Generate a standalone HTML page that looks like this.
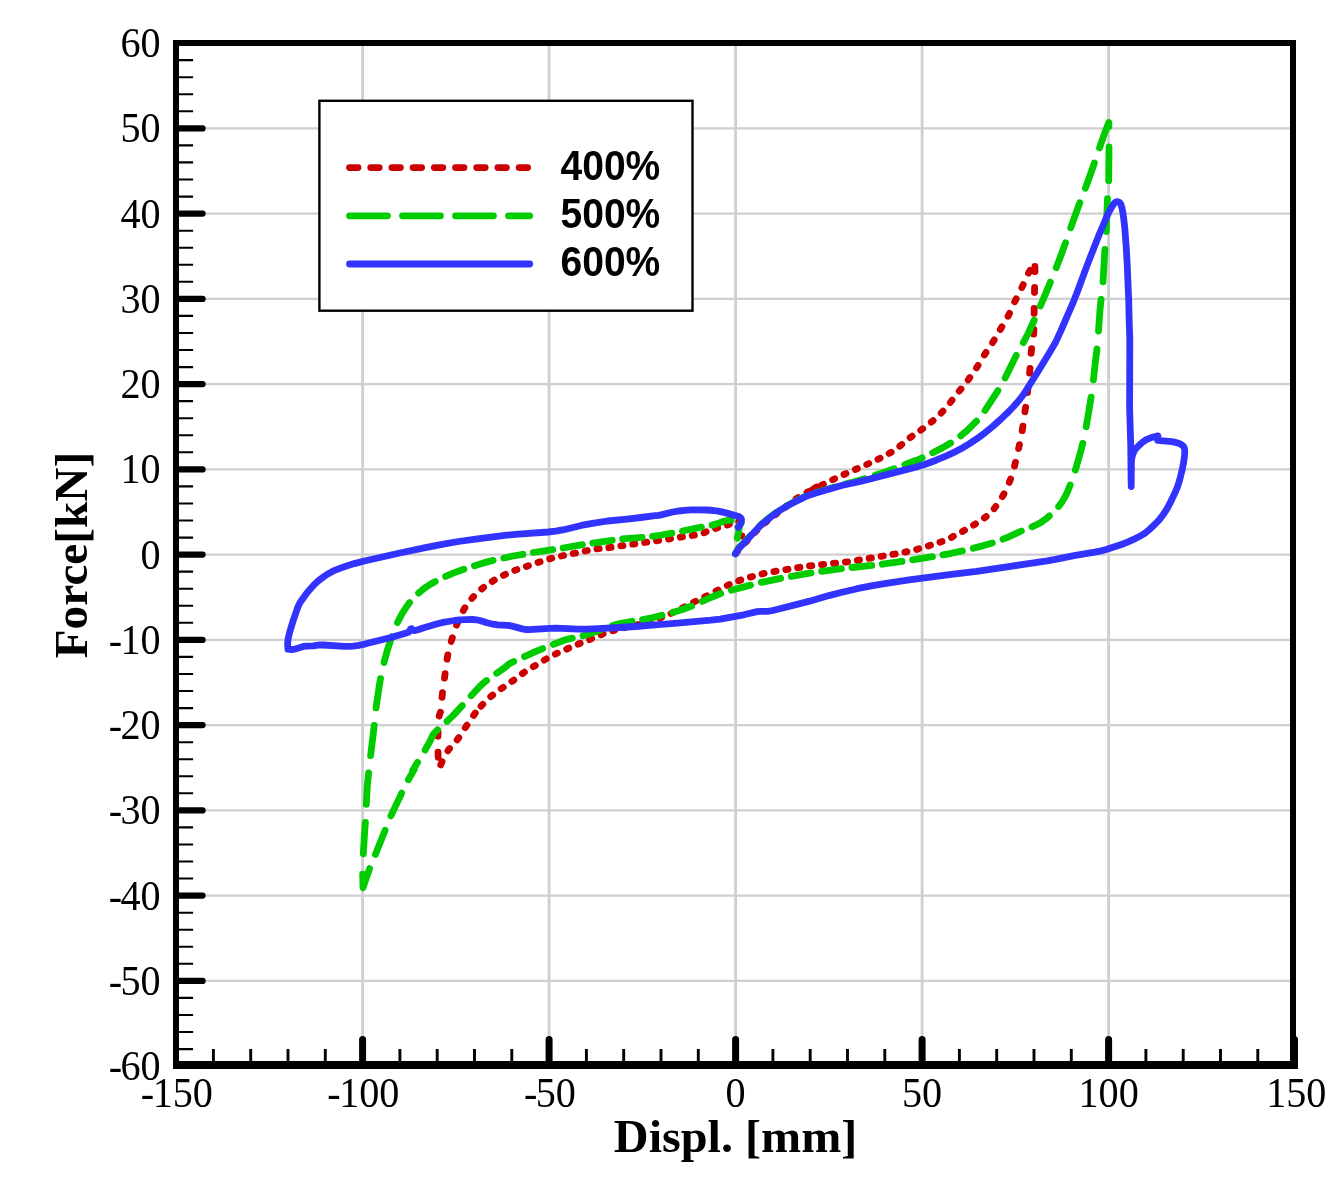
<!DOCTYPE html>
<html lang="en"><head><meta charset="utf-8"><title>Force vs Displ.</title>
<style>html,body{margin:0;padding:0;background:#fff}svg{display:block}</style></head>
<body>
<svg width="1342" height="1181" viewBox="0 0 1342 1181">
<rect width="1342" height="1181" fill="#fff"/>
<path d="M362.6 46.0V1061.0M549.1 46.0V1061.0M735.6 46.0V1061.0M922.1 46.0V1061.0M1108.6 46.0V1061.0" stroke="#cfcfcf" stroke-width="2.8" fill="none"/>
<path d="M179.0 980.9H1290.0M179.0 895.6H1290.0M179.0 810.4H1290.0M179.0 725.1H1290.0M179.0 639.9H1290.0M179.0 554.6H1290.0M179.0 469.4H1290.0M179.0 384.1H1290.0M179.0 298.9H1290.0M179.0 213.6H1290.0M179.0 128.4H1290.0" stroke="#cfcfcf" stroke-width="2.1" fill="none"/>
<path d="M736.2 553.2L737.8 550.6M745.5 542.5L747.3 540.5M754.9 532.3L756.8 530.4M764.8 523.0L766.8 521.3M775.2 514.7L777.2 513.2M785.7 507.0L787.7 505.5M796.1 498.8L798.1 497.5M807.1 492.3L809.2 491.2M816.6 487.0L814.5 488.2M810.1 491.0L812.2 489.9M821.3 485.3L823.4 484.3M832.6 479.7L834.7 478.7M843.9 474.5L846.0 473.6M855.3 469.5L857.4 468.6M866.7 464.5L868.8 463.5M878.0 459.3L880.1 458.2M889.1 453.4L891.2 452.2M899.8 446.2L901.8 444.5M910.1 437.6L912.1 436.2M920.7 430.2L922.7 428.8M931.2 422.2L933.1 420.6M941.1 413.1L943.0 411.2M950.3 402.5L952.1 400.2M959.2 391.2L961.0 389.0M968.1 379.9L969.8 377.6M976.5 367.9L978.1 365.3M984.4 355.0L986.0 352.4M992.6 342.6L994.2 339.9M1000.3 329.5L1001.9 326.8M1008.0 316.3L1009.5 313.3M1014.7 301.8L1016.2 298.8M1021.8 287.7L1023.2 284.6M1028.5 273.1L1030.1 270.3M1034.9 266.5L1035.0 271.7M1034.6 287.4L1034.5 292.5M1034.2 308.3L1034.1 313.4M1033.9 329.3L1033.7 334.2M1031.6 348.6L1031.1 353.3M1030.0 368.5L1029.6 373.2M1028.0 388.1L1027.5 392.7M1025.6 407.3L1024.9 411.7M1022.9 426.2L1022.2 430.6M1019.5 444.6L1018.6 448.6M1015.5 462.2L1014.5 466.1M1010.6 479.0L1009.3 482.4M1004.0 493.8L1002.4 496.6M995.8 506.4L994.1 508.7M986.2 516.5L984.3 518.0M975.5 523.8L973.5 525.1M964.6 530.3L962.5 531.5M953.4 536.3L951.4 537.4M942.1 541.5L939.9 542.2M930.5 545.2L928.3 545.9M918.8 548.7L916.6 549.4M907.0 551.6L904.8 552.1M895.2 554.0L892.9 554.4M883.3 556.0L881.0 556.3M871.4 557.9L869.1 558.3M859.5 559.9L857.3 560.3M847.6 561.8L845.4 562.1M835.7 563.1L833.4 563.4M823.7 564.3L821.5 564.6M811.8 565.6L809.5 565.9M799.9 567.3L797.6 567.7M788.0 569.3L785.8 569.7M776.1 571.2L773.9 571.6M764.2 573.4L762.0 574.0M752.5 576.5L750.3 577.1M740.8 580.0L738.6 580.8M729.3 584.5L727.2 585.5M718.1 590.0L716.0 591.1M706.8 595.7L704.7 596.7M695.6 601.3L693.5 602.3M684.4 606.9L682.3 608.0M673.1 612.5L671.0 613.5M661.7 617.2L659.5 618.0M650.1 621.0L647.9 621.7M638.4 624.5L636.2 625.1M626.6 627.3L624.4 627.8M614.8 630.1L612.6 630.7M603.2 633.9L601.0 634.8M591.7 638.7L589.6 639.6M580.2 643.3L578.1 644.2M568.8 648.1L566.7 649.1M557.4 653.2L555.3 654.1M546.3 658.9L544.2 660.1M535.3 665.5L533.3 666.7M524.4 672.2L522.4 673.6M513.9 680.1L511.9 681.4M503.2 687.3L501.2 688.6M492.7 695.0L490.7 696.6M482.8 704.3L481.0 706.3M475.3 713.0L473.6 715.5M467.0 725.2L465.3 727.7M458.8 737.7L457.1 739.9M449.6 748.5L447.9 750.8M442.1 761.7L440.7 764.9M438.2 757.3L438.0 752.2M438.0 736.3L438.1 731.3M439.2 716.0L439.6 714.5L440.4 712.2M442.0 697.3L442.5 692.7M444.5 678.1L445.1 673.7M447.1 659.1L447.8 654.9M451.2 641.4L452.3 637.7M456.5 625.2L457.9 621.9M463.3 610.6L464.9 607.8M471.8 598.5L473.6 596.5M481.6 589.0L483.6 587.4M492.2 581.5L494.3 580.2M503.4 575.4L505.5 574.4M514.7 570.4L516.9 569.6M526.3 566.4L528.5 565.7M538.0 562.5L540.1 561.8M549.6 558.9L551.8 558.3M561.4 556.0L563.6 555.5M573.2 553.5L575.5 553.1M585.1 551.0L587.3 550.5M596.9 548.9L599.2 548.7M608.8 547.7L611.1 547.3M620.8 545.9L623.0 545.6M632.7 544.2L634.9 543.9M644.6 542.5L646.8 542.2M656.5 540.8L658.7 540.5M668.4 539.1L670.6 538.6M680.3 537.2L682.5 536.8M692.2 535.5L694.4 535.2M704.0 532.8L706.1 531.9M715.5 528.5L717.7 527.8M727.2 525.0L729.4 524.2M738.7 521.6L739.8 521.9L740.9 522.5M741.8 535.7L741.7 536.0" stroke="#cc0000" stroke-width="6.8" stroke-linecap="round" stroke-linejoin="round" fill="none"/>
<path d="M735.4 553.7L737.8 549.3L739.2 547.3L743.5 543.2L750.8 535.3M759.9 525.6L767.2 519.2L776.4 512.3M786.6 505.9L793.9 502.1L804.8 496.6M815.5 492.8L834.6 487.0M845.3 484.0L855.4 481.6L864.5 478.7M875.2 475.3L885.4 472.0L894.2 468.8M904.8 464.6L915.5 460.5L915.0 461.4L922.2 457.9M932.7 452.7L942.3 447.9L950.6 443.0M960.7 435.9L967.8 429.8L976.5 421.2M985.0 410.5L997.9 390.6M1005.1 377.9L1016.2 355.4M1023.3 342.6L1028.1 333.5L1034.3 320.0M1040.4 306.0L1050.4 282.1M1056.2 267.7L1060.8 255.8L1065.5 242.8M1070.7 227.8L1074.7 216.6L1079.8 202.8M1085.4 188.2L1090.0 175.5L1094.4 163.0M1099.5 147.9L1104.9 132.3L1108.8 122.5L1108.9 126.6M1109.0 146.9L1108.7 180.6M1107.5 198.7L1106.2 231.5M1104.9 249.4L1103.0 281.8M1101.1 299.4L1100.1 308.7L1098.5 331.1M1097.0 349.0L1095.3 362.5L1093.4 379.8M1091.1 397.1L1088.9 410.8L1086.2 426.7M1082.8 443.2L1079.6 455.5L1075.3 470.1M1070.2 485.0L1067.5 491.8L1065.2 496.5L1062.0 501.9L1058.6 506.5M1049.4 515.9L1045.4 519.3L1040.9 522.4L1037.1 524.5L1032.0 526.8M1021.4 531.0L1008.1 537.1L1003.0 539.2M992.3 542.9L983.4 545.6L973.2 548.3M962.5 550.9L951.5 553.3L943.0 554.9M932.4 556.7L912.7 559.8M902.1 561.4L882.3 564.2M871.8 565.4L851.9 567.5M841.4 568.7L821.6 571.3M811.0 572.9L791.3 576.3M780.7 578.3L761.2 582.4M750.6 585.1L731.3 590.2M720.7 593.5L709.5 598.0L702.2 601.4M691.6 606.0L681.6 609.8L672.7 612.5M662.0 615.3L650.8 618.1L642.6 619.6M632.0 621.3L621.0 623.3L616.8 624.3L612.6 625.5M601.9 629.3L590.0 633.7L583.0 635.8M572.3 638.1L565.4 639.8L553.3 644.4M542.7 648.6L534.8 651.9L524.4 656.7M513.8 661.5L509.4 663.7L505.1 667.4L496.7 673.2M486.6 680.5L483.2 683.2L480.3 685.9L471.2 695.7M462.3 705.6L452.2 716.4L447.1 721.3M437.5 729.8L434.5 732.8L432.8 735.2L429.5 742.2L425.1 750.0M417.6 762.3L412.7 770.5L413.0 770.8L414.3 769.4L408.4 779.8M401.7 793.1L390.9 815.9M385.1 830.2L375.4 854.4M369.6 868.6L363.0 887.7L362.7 874.2M363.3 853.8L364.4 835.5L365.4 822.3M366.3 804.3L367.3 786.2L368.6 772.9M370.6 755.6L373.3 733.4L374.2 725.4M376.0 707.9L379.2 686.3L380.5 678.6M384.0 662.5L387.3 650.4L391.8 636.7M397.5 622.6L400.1 617.3L402.7 612.7L406.0 607.5L409.6 602.6M418.6 593.1L422.2 590.0L426.4 586.8L430.8 584.0L435.2 581.5M445.6 576.4L453.8 572.9L463.9 569.2M474.4 565.7L483.6 562.9L493.2 560.4M503.7 558.0L513.2 556.0L522.9 554.3M533.3 552.5L552.7 549.7M563.1 548.0L582.4 544.7M592.9 543.1L612.2 540.3M622.6 538.9L642.2 537.4M652.6 536.3L661.5 535.0L671.9 533.1M682.4 531.0L701.5 527.2M712.0 525.1L716.6 523.9L723.7 521.3L726.5 520.7L731.1 520.2M739.7 524.8L738.6 532.1L737.3 538.2" stroke="#00cc00" stroke-width="6.8" stroke-linecap="round" stroke-linejoin="round" fill="none"/>
<path d="M735.4 553.9L737.8 549.9L739.2 548.0L743.9 543.3L757.3 528.8L763.0 523.3L770.2 517.5L780.3 510.1L785.6 506.8L794.6 502.1L804.4 497.1L807.6 495.8L815.7 493.1L830.4 488.7L842.5 485.3L859.2 481.7L883.9 475.4L901.1 470.9L915.7 467.2L924.6 464.5L936.1 460.2L945.8 456.1L955.6 451.6L962.4 448.0L969.5 443.7L977.0 438.7L985.1 432.7L992.8 426.4L1000.9 419.1L1007.5 412.8L1013.6 406.5L1018.9 400.5L1023.1 395.0L1025.9 390.8L1038.8 370.3L1049.3 353.1L1055.3 342.8L1060.7 331.1L1073.3 302.1L1076.9 292.9L1087.1 265.4L1093.5 248.9L1100.2 232.0L1106.2 218.0L1109.3 211.3L1112.3 206.1L1113.8 203.9L1115.0 202.7L1115.6 202.1L1116.9 201.6L1118.2 201.8L1118.9 202.1L1119.6 202.6L1120.3 203.4L1120.9 204.4L1121.9 207.6L1123.0 213.5L1123.9 220.0L1124.9 229.3L1126.4 250.1L1127.1 262.3L1128.7 299.7L1129.1 318.8L1129.8 339.3L1129.6 407.5L1130.7 444.1L1131.2 486.5L1131.4 461.5L1131.8 458.1L1132.8 454.3L1134.3 450.9L1135.1 449.6L1136.6 447.7L1141.3 443.3L1143.3 441.7L1146.0 439.9L1148.3 438.8L1151.4 437.6L1154.4 436.7L1158.0 435.9L1157.7 440.3L1171.7 441.6L1175.7 442.4L1178.6 443.3L1180.7 444.2L1182.0 445.1L1183.1 446.0L1184.0 447.2L1184.5 448.5L1184.8 450.6L1184.6 455.4L1183.7 461.9L1182.2 469.6L1179.5 480.5L1177.6 486.6L1175.5 491.7L1169.5 504.2L1166.6 509.5L1163.2 514.6L1159.4 519.6L1155.0 524.3L1149.9 529.1L1144.7 533.3L1140.9 535.7L1135.3 538.6L1128.1 541.9L1121.5 544.5L1106.2 549.5L1101.1 550.9L1094.9 552.1L1075.3 555.3L1055.4 559.4L1047.2 560.9L976.6 571.4L949.3 574.7L909.2 579.9L881.5 584.1L871.2 585.8L857.1 588.7L840.0 592.7L828.9 595.6L808.8 601.4L772.8 610.5L767.5 611.3L760.0 611.3L757.0 611.6L743.8 614.8L720.1 619.1L710.9 620.2L677.4 623.1L655.1 624.8L635.8 626.5L619.6 627.5L597.7 628.7L586.5 629.2L577.9 629.2L561.9 628.3L556.1 628.2L549.7 628.4L529.1 629.7L525.4 629.5L522.2 628.9L512.1 626.1L509.2 625.5L507.4 625.3L497.7 624.9L493.0 624.2L487.0 622.8L480.7 620.8L476.4 619.8L472.5 619.5L465.6 619.6L460.1 619.9L454.6 620.5L448.3 621.5L441.8 622.7L436.5 624.0L423.1 628.0L417.2 630.0L415.1 630.5L414.5 630.6L413.5 630.4L412.7 629.9L411.6 628.7L411.1 628.6L410.6 628.9L409.6 631.2L408.3 632.2L406.4 632.9L395.1 636.3L389.9 637.8L365.7 643.8L358.6 645.3L353.0 646.1L349.1 646.4L344.5 646.4L323.5 645.0L319.6 644.9L313.4 645.8L306.4 646.1L304.1 646.3L295.3 649.0L293.1 649.5L291.3 649.5L287.9 649.2L287.6 643.4L288.1 638.8L289.8 631.7L292.6 622.4L297.4 608.4L299.1 604.3L301.1 601.0L305.6 594.7L309.2 590.2L314.6 584.2L318.1 581.0L324.0 576.5L328.7 573.4L333.4 570.9L339.1 568.6L347.2 565.7L354.3 563.6L363.3 561.2L398.7 553.3L425.4 547.6L443.4 544.1L458.5 541.5L477.5 538.8L504.8 535.4L515.4 534.4L548.1 532.0L555.7 531.2L563.9 529.7L582.3 525.2L595.6 522.8L607.5 521.0L627.2 519.1L640.9 517.5L655.1 515.6L658.9 515.4L672.7 512.0L678.6 511.0L684.6 510.3L691.0 509.9L699.0 509.8L707.0 510.0L713.4 510.5L718.0 511.1L721.8 511.9L727.7 513.4L738.0 516.2L739.3 516.7L740.7 517.8L741.1 518.4L741.5 519.8L741.3 522.2L740.7 523.8L739.3 525.9L738.1 527.1" stroke="#3333ff" stroke-width="6.8" stroke-linecap="round" stroke-linejoin="round" fill="none"/>
<rect x="319.4" y="100.8" width="373.1" height="209.9" fill="#fff" stroke="#000" stroke-width="2.4"/>
<path d="M349.5 167.6H358.0M370.7 167.6H379.2M391.9 167.6H400.4M413.1 167.6H421.6M434.3 167.6H442.8M455.5 167.6H464.0M476.7 167.6H485.2M497.9 167.6H506.4M519.1 167.6H527.6" stroke="#cc0000" stroke-width="6.8" stroke-linecap="round" fill="none"/>
<path d="M349.5 215.8H387.5M402.5 215.8H440.5M455.5 215.8H493.5M508.5 215.8H529.7" stroke="#00cc00" stroke-width="6.8" stroke-linecap="round" fill="none"/>
<path d="M349.5 264.0H529.7" stroke="#3333ff" stroke-width="6.8" stroke-linecap="round" fill="none"/>
<g font-family="'Liberation Sans', Arial, Helvetica, sans-serif" font-weight="bold" font-size="40.6" fill="#000">
<text transform="translate(560.5 180.1) scale(1 1.04)" textLength="99.8" lengthAdjust="spacingAndGlyphs">400%</text>
<text transform="translate(560.5 228.3) scale(1 1.04)" textLength="99.8" lengthAdjust="spacingAndGlyphs">500%</text>
<text transform="translate(560.5 276.4) scale(1 1.04)" textLength="99.8" lengthAdjust="spacingAndGlyphs">600%</text>
</g>
<g fill="#000" shape-rendering="crispEdges"><rect x="173.0" y="40.0" width="6.0" height="1029.0"/><rect x="173.0" y="1061.0" width="1125.0" height="8.0"/><rect x="173.0" y="40.0" width="1123.0" height="6.0"/><rect x="1290.0" y="40.0" width="6.0" height="1029.0"/></g>
<path d="M178.0 980.9H202.6M178.0 895.6H202.6M178.0 810.4H202.6M178.0 725.1H202.6M178.0 639.9H202.6M178.0 554.6H202.6M178.0 469.4H202.6M178.0 384.1H202.6M178.0 298.9H202.6M178.0 213.6H202.6M178.0 128.4H202.6" stroke="#000" stroke-width="6.2" stroke-linecap="round" fill="none"/>
<path d="M362.6 1062.0V1039.4M549.1 1062.0V1039.4M735.6 1062.0V1039.4M922.1 1062.0V1039.4M1108.6 1062.0V1039.4M1294.5 1062.0V1039.4" stroke="#000" stroke-width="7" stroke-linecap="round" fill="none"/>
<path d="M178.0 1049.1H193.1M178.0 1032.0H193.1M178.0 1015.0H193.1M178.0 997.9H193.1M178.0 963.8H193.1M178.0 946.8H193.1M178.0 929.7H193.1M178.0 912.7H193.1M178.0 878.5H193.1M178.0 861.5H193.1M178.0 844.5H193.1M178.0 827.4H193.1M178.0 793.3H193.1M178.0 776.2H193.1M178.0 759.2H193.1M178.0 742.2H193.1M178.0 708.1H193.1M178.0 691.0H193.1M178.0 674.0H193.1M178.0 656.9H193.1M178.0 622.8H193.1M178.0 605.8H193.1M178.0 588.7H193.1M178.0 571.6H193.1M178.0 537.6H193.1M178.0 520.5H193.1M178.0 503.5H193.1M178.0 486.4H193.1M178.0 452.3H193.1M178.0 435.2H193.1M178.0 418.2H193.1M178.0 401.1H193.1M178.0 367.1H193.1M178.0 350.0H193.1M178.0 333.0H193.1M178.0 315.9H193.1M178.0 281.8H193.1M178.0 264.8H193.1M178.0 247.7H193.1M178.0 230.7H193.1M178.0 196.6H193.1M178.0 179.5H193.1M178.0 162.4H193.1M178.0 145.4H193.1M178.0 111.3H193.1M178.0 94.2H193.1M178.0 77.2H193.1M178.0 60.1H193.1" stroke="#000" stroke-width="2.1" fill="none"/>
<path d="M213.4 1062.0V1049.0M250.7 1062.0V1049.0M288.0 1062.0V1049.0M325.3 1062.0V1049.0M399.9 1062.0V1049.0M437.2 1062.0V1049.0M474.5 1062.0V1049.0M511.8 1062.0V1049.0M586.4 1062.0V1049.0M623.7 1062.0V1049.0M661.0 1062.0V1049.0M698.3 1062.0V1049.0M772.9 1062.0V1049.0M810.2 1062.0V1049.0M847.5 1062.0V1049.0M884.8 1062.0V1049.0M959.4 1062.0V1049.0M996.7 1062.0V1049.0M1034.0 1062.0V1049.0M1071.3 1062.0V1049.0M1145.9 1062.0V1049.0M1183.2 1062.0V1049.0M1220.5 1062.0V1049.0M1257.8 1062.0V1049.0" stroke="#000" stroke-width="2.9" fill="none"/>
<g font-family="'Liberation Serif', 'Times New Roman', Times, serif" font-size="40.2" fill="#000">
<text transform="translate(160.6 1080.0) scale(1 1.035)" text-anchor="end"><tspan letter-spacing="-1.6">-</tspan>60</text>
<text transform="translate(160.6 994.8) scale(1 1.035)" text-anchor="end"><tspan letter-spacing="-1.6">-</tspan>50</text>
<text transform="translate(160.6 909.5) scale(1 1.035)" text-anchor="end"><tspan letter-spacing="-1.6">-</tspan>40</text>
<text transform="translate(160.6 824.2) scale(1 1.035)" text-anchor="end"><tspan letter-spacing="-1.6">-</tspan>30</text>
<text transform="translate(160.6 739.0) scale(1 1.035)" text-anchor="end"><tspan letter-spacing="-1.6">-</tspan>20</text>
<text transform="translate(160.6 653.8) scale(1 1.035)" text-anchor="end"><tspan letter-spacing="-1.6">-</tspan>10</text>
<text transform="translate(160.6 568.5) scale(1 1.035)" text-anchor="end">0</text>
<text transform="translate(160.6 483.2) scale(1 1.035)" text-anchor="end">10</text>
<text transform="translate(160.6 398.0) scale(1 1.035)" text-anchor="end">20</text>
<text transform="translate(160.6 312.8) scale(1 1.035)" text-anchor="end">30</text>
<text transform="translate(160.6 227.5) scale(1 1.035)" text-anchor="end">40</text>
<text transform="translate(160.6 142.3) scale(1 1.035)" text-anchor="end">50</text>
<text transform="translate(160.6 57.0) scale(1 1.035)" text-anchor="end">60</text>
<text transform="translate(176.9 1106.8) scale(1 1.035)" text-anchor="middle"><tspan letter-spacing="-1.6">-</tspan>150</text>
<text transform="translate(363.4 1106.8) scale(1 1.035)" text-anchor="middle"><tspan letter-spacing="-1.6">-</tspan>100</text>
<text transform="translate(549.9 1106.8) scale(1 1.035)" text-anchor="middle"><tspan letter-spacing="-1.6">-</tspan>50</text>
<text transform="translate(735.6 1106.8) scale(1 1.035)" text-anchor="middle">0</text>
<text transform="translate(922.1 1106.8) scale(1 1.035)" text-anchor="middle">50</text>
<text transform="translate(1108.6 1106.8) scale(1 1.035)" text-anchor="middle">100</text>
<text transform="translate(1296.3 1106.8) scale(1 1.035)" text-anchor="middle">150</text>
</g>
<g font-family="'Liberation Serif', 'Times New Roman', Times, serif" font-weight="bold" font-size="47" fill="#000">
<text x="735.6" y="1151.8" text-anchor="middle" textLength="243.5" lengthAdjust="spacingAndGlyphs">Displ. [mm]</text>
<text transform="translate(86.8 555.0) rotate(-90)" text-anchor="middle" textLength="206.5" lengthAdjust="spacingAndGlyphs">Force[kN]</text>
</g>
</svg>
</body></html>
